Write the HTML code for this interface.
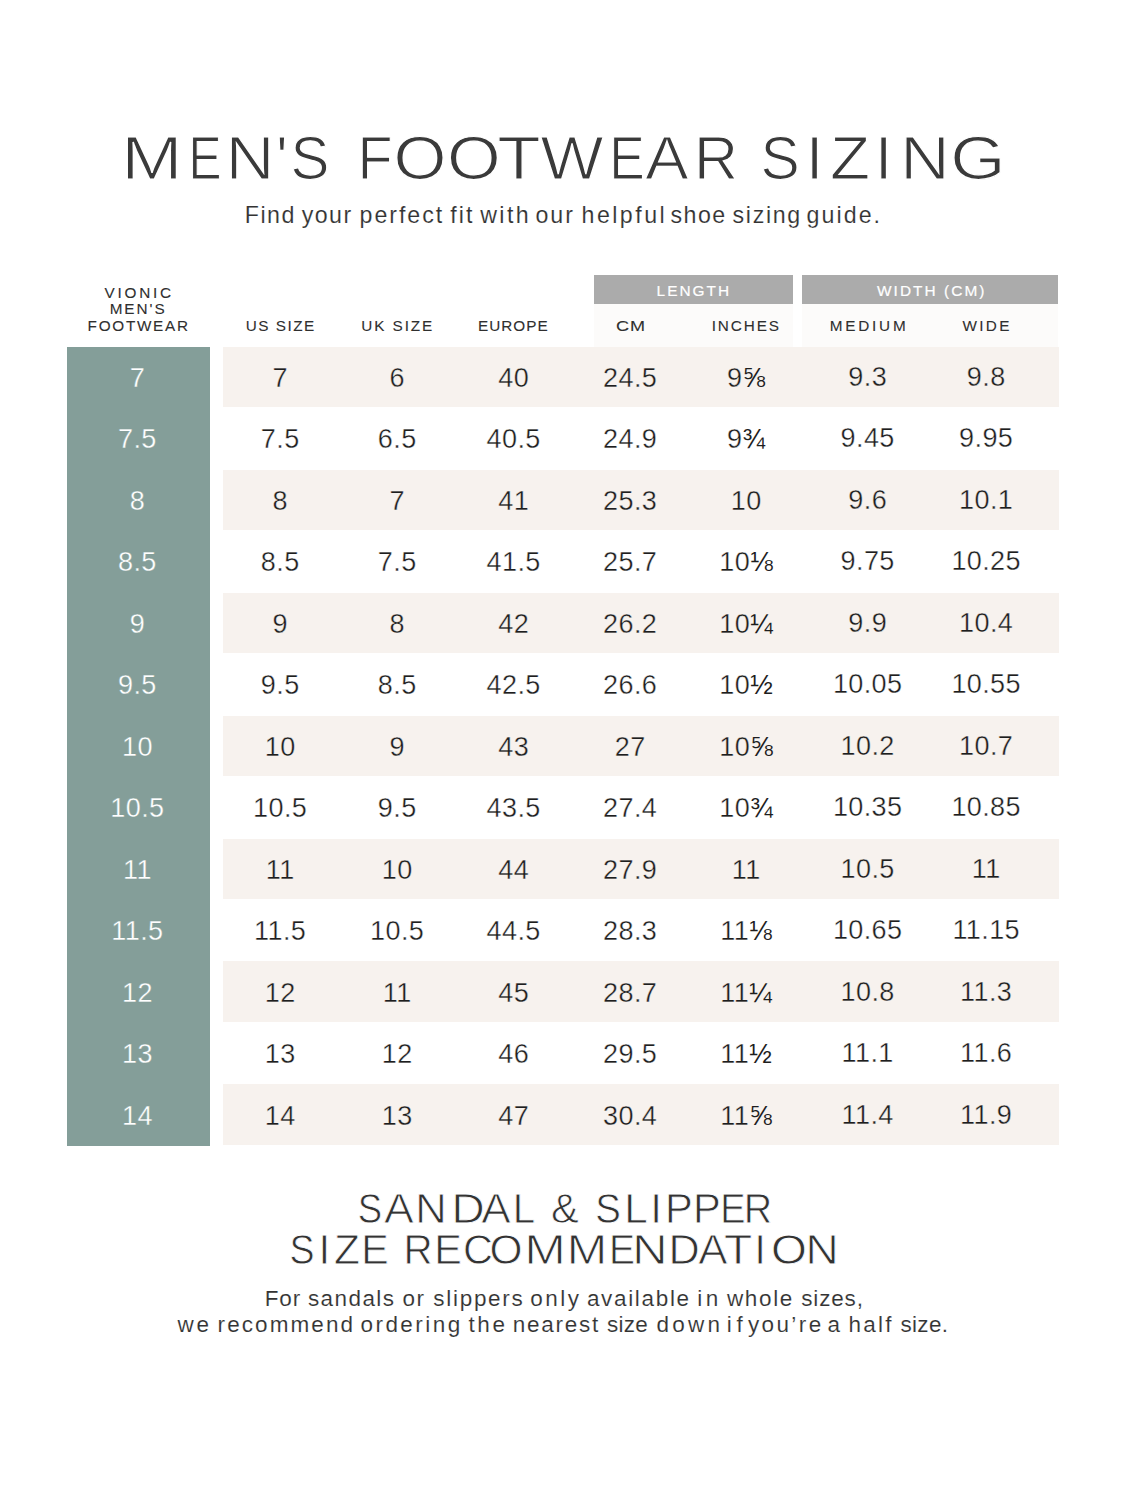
<!DOCTYPE html>
<html><head><meta charset="utf-8"><style>
html,body{margin:0;padding:0;background:#fff;}
body{width:1125px;height:1500px;position:relative;overflow:hidden;font-family:"Liberation Sans",sans-serif;}
.t{position:absolute;text-align:center;white-space:nowrap;}
.bg{position:absolute;left:222.5px;width:836.5px;background:#f7f2ee;}
.teal{position:absolute;left:67px;top:347.3px;width:143px;height:798.4000000000001px;background:#849e99;}
.gray{position:absolute;top:275.2px;height:28.900000000000034px;background:#ababab;}
.hrow{position:absolute;top:304px;height:43px;background:#fcfbfa;}
</style></head><body>
<div class="hrow" style="left:594px;width:199px"></div>
<div class="hrow" style="left:802px;width:256px"></div>
<div class="gray" style="left:594px;width:199px"></div>
<div class="gray" style="left:802px;width:256px"></div>
<div class="teal"></div>
<div class="bg" style="top:346.90px;height:60.4px"></div>
<div class="bg" style="top:469.80px;height:60.4px"></div>
<div class="bg" style="top:592.70px;height:60.4px"></div>
<div class="bg" style="top:715.60px;height:60.4px"></div>
<div class="bg" style="top:838.50px;height:60.4px"></div>
<div class="bg" style="top:961.40px;height:60.4px"></div>
<div class="bg" style="top:1084.30px;height:60.4px"></div>
<div class="t" style="left:51.50px;top:118.95px;width:200px;font-size:61.8px;line-height:77.25px;letter-spacing:0.000px;color:#3a3a3a;-webkit-text-stroke:1.2px #fff;transform:scaleX(1.190);">M</div>
<div class="t" style="left:105.00px;top:118.95px;width:200px;font-size:61.8px;line-height:77.25px;letter-spacing:0.000px;color:#3a3a3a;-webkit-text-stroke:1.2px #fff;transform:scaleX(0.802);">E</div>
<div class="t" style="left:149.50px;top:118.95px;width:200px;font-size:61.8px;line-height:77.25px;letter-spacing:0.000px;color:#3a3a3a;-webkit-text-stroke:1.2px #fff;transform:scaleX(1.089);">N</div>
<div class="t" style="left:182.00px;top:118.95px;width:200px;font-size:61.8px;line-height:77.25px;letter-spacing:0.000px;color:#3a3a3a;-webkit-text-stroke:1.2px #fff;transform:scaleX(1.000);">'</div>
<div class="t" style="left:209.50px;top:118.95px;width:200px;font-size:61.8px;line-height:77.25px;letter-spacing:0.000px;color:#3a3a3a;-webkit-text-stroke:1.2px #fff;transform:scaleX(0.944);">S</div>
<div class="t" style="left:274.50px;top:118.95px;width:200px;font-size:61.8px;line-height:77.25px;letter-spacing:0.000px;color:#3a3a3a;-webkit-text-stroke:1.2px #fff;transform:scaleX(0.930);">F</div>
<div class="t" style="left:319.50px;top:118.95px;width:200px;font-size:61.8px;line-height:77.25px;letter-spacing:0.000px;color:#3a3a3a;-webkit-text-stroke:1.2px #fff;transform:scaleX(1.102);">O</div>
<div class="t" style="left:374.00px;top:118.95px;width:200px;font-size:61.8px;line-height:77.25px;letter-spacing:0.000px;color:#3a3a3a;-webkit-text-stroke:1.2px #fff;transform:scaleX(1.118);">O</div>
<div class="t" style="left:418.50px;top:118.95px;width:200px;font-size:61.8px;line-height:77.25px;letter-spacing:0.000px;color:#3a3a3a;-webkit-text-stroke:1.2px #fff;transform:scaleX(1.149);">T</div>
<div class="t" style="left:472.00px;top:118.95px;width:200px;font-size:61.8px;line-height:77.25px;letter-spacing:0.000px;color:#3a3a3a;-webkit-text-stroke:1.2px #fff;transform:scaleX(1.079);">W</div>
<div class="t" style="left:526.50px;top:118.95px;width:200px;font-size:61.8px;line-height:77.25px;letter-spacing:0.000px;color:#3a3a3a;-webkit-text-stroke:1.2px #fff;transform:scaleX(0.861);">E</div>
<div class="t" style="left:567.00px;top:118.95px;width:200px;font-size:61.8px;line-height:77.25px;letter-spacing:0.000px;color:#3a3a3a;-webkit-text-stroke:1.2px #fff;transform:scaleX(1.051);">A</div>
<div class="t" style="left:615.50px;top:118.95px;width:200px;font-size:61.8px;line-height:77.25px;letter-spacing:0.000px;color:#3a3a3a;-webkit-text-stroke:1.2px #fff;transform:scaleX(0.986);">R</div>
<div class="t" style="left:680.00px;top:118.95px;width:200px;font-size:61.8px;line-height:77.25px;letter-spacing:0.000px;color:#3a3a3a;-webkit-text-stroke:1.2px #fff;transform:scaleX(0.952);">S</div>
<div class="t" style="left:714.50px;top:118.95px;width:200px;font-size:61.8px;line-height:77.25px;letter-spacing:0.000px;color:#3a3a3a;-webkit-text-stroke:1.2px #fff;transform:scaleX(1.000);">I</div>
<div class="t" style="left:750.00px;top:118.95px;width:200px;font-size:61.8px;line-height:77.25px;letter-spacing:0.000px;color:#3a3a3a;-webkit-text-stroke:1.2px #fff;transform:scaleX(1.062);">Z</div>
<div class="t" style="left:783.50px;top:118.95px;width:200px;font-size:61.8px;line-height:77.25px;letter-spacing:0.000px;color:#3a3a3a;-webkit-text-stroke:1.2px #fff;transform:scaleX(1.000);">I</div>
<div class="t" style="left:825.00px;top:118.95px;width:200px;font-size:61.8px;line-height:77.25px;letter-spacing:0.000px;color:#3a3a3a;-webkit-text-stroke:1.2px #fff;transform:scaleX(1.106);">N</div>
<div class="t" style="left:878.00px;top:118.95px;width:200px;font-size:61.8px;line-height:77.25px;letter-spacing:0.000px;color:#3a3a3a;-webkit-text-stroke:1.2px #fff;transform:scaleX(1.150);">G</div>
<div class="t" style="left:39.20px;top:282.54px;width:200px;font-size:15.3px;line-height:19.12px;letter-spacing:2.800px;color:#2f2f2f;-webkit-text-stroke:0.1px #2f2f2f;">VIONIC</div>
<div class="t" style="left:38.20px;top:299.24px;width:200px;font-size:15.3px;line-height:19.12px;letter-spacing:2.000px;color:#2f2f2f;-webkit-text-stroke:0.1px #2f2f2f;">MEN'S</div>
<div class="t" style="left:38.66px;top:316.14px;width:200px;font-size:15.3px;line-height:19.12px;letter-spacing:1.714px;color:#2f2f2f;-webkit-text-stroke:0.1px #2f2f2f;">FOOTWEAR</div>
<div class="t" style="left:180.75px;top:316.14px;width:200px;font-size:15.3px;line-height:19.12px;letter-spacing:1.500px;color:#2f2f2f;-webkit-text-stroke:0.1px #2f2f2f;">US SIZE</div>
<div class="t" style="left:297.76px;top:316.14px;width:200px;font-size:15.3px;line-height:19.12px;letter-spacing:1.917px;color:#2f2f2f;-webkit-text-stroke:0.1px #2f2f2f;">UK SIZE</div>
<div class="t" style="left:413.30px;top:316.14px;width:200px;font-size:15.3px;line-height:19.12px;letter-spacing:1.000px;color:#2f2f2f;-webkit-text-stroke:0.1px #2f2f2f;">EUROPE</div>
<div class="t" style="left:530.85px;top:316.14px;width:200px;font-size:15.3px;line-height:19.12px;letter-spacing:0.900px;color:#2f2f2f;transform:scaleX(1.18);-webkit-text-stroke:0.1px #2f2f2f;">CM</div>
<div class="t" style="left:646.25px;top:316.14px;width:200px;font-size:15.3px;line-height:19.12px;letter-spacing:1.900px;color:#2f2f2f;-webkit-text-stroke:0.1px #2f2f2f;">INCHES</div>
<div class="t" style="left:769.10px;top:316.14px;width:200px;font-size:15.3px;line-height:19.12px;letter-spacing:2.800px;color:#2f2f2f;-webkit-text-stroke:0.1px #2f2f2f;">MEDIUM</div>
<div class="t" style="left:887.07px;top:316.14px;width:200px;font-size:15.3px;line-height:19.12px;letter-spacing:2.333px;color:#2f2f2f;-webkit-text-stroke:0.1px #2f2f2f;">WIDE</div>
<div class="t" style="left:593.80px;top:280.94px;width:200px;font-size:15.4px;line-height:19.25px;letter-spacing:2.000px;color:#fff;-webkit-text-stroke:0.2px #fff;">LENGTH</div>
<div class="t" style="left:831.73px;top:280.94px;width:200px;font-size:15.4px;line-height:19.25px;letter-spacing:2.056px;color:#fff;-webkit-text-stroke:0.2px #fff;">WIDTH (CM)</div>
<div class="t" style="left:269.70px;top:1182.99px;width:200px;font-size:42.2px;line-height:52.75px;letter-spacing:0.000px;color:#333;-webkit-text-stroke:0.8px #fff;transform:scaleX(0.866);">S</div>
<div class="t" style="left:298.60px;top:1182.99px;width:200px;font-size:42.2px;line-height:52.75px;letter-spacing:0.000px;color:#333;-webkit-text-stroke:0.8px #fff;transform:scaleX(1.059);">A</div>
<div class="t" style="left:331.30px;top:1182.99px;width:200px;font-size:42.2px;line-height:52.75px;letter-spacing:0.000px;color:#333;-webkit-text-stroke:0.8px #fff;transform:scaleX(1.032);">N</div>
<div class="t" style="left:367.50px;top:1182.99px;width:200px;font-size:42.2px;line-height:52.75px;letter-spacing:0.000px;color:#333;-webkit-text-stroke:0.8px #fff;transform:scaleX(1.089);">D</div>
<div class="t" style="left:395.70px;top:1182.99px;width:200px;font-size:42.2px;line-height:52.75px;letter-spacing:0.000px;color:#333;-webkit-text-stroke:0.8px #fff;transform:scaleX(1.048);">A</div>
<div class="t" style="left:423.90px;top:1182.99px;width:200px;font-size:42.2px;line-height:52.75px;letter-spacing:0.000px;color:#333;-webkit-text-stroke:0.8px #fff;transform:scaleX(0.955);">L</div>
<div class="t" style="left:465.20px;top:1182.99px;width:200px;font-size:42.2px;line-height:52.75px;letter-spacing:0.000px;color:#333;-webkit-text-stroke:0.8px #fff;transform:scaleX(0.986);">&amp;</div>
<div class="t" style="left:508.10px;top:1182.99px;width:200px;font-size:42.2px;line-height:52.75px;letter-spacing:0.000px;color:#333;-webkit-text-stroke:0.8px #fff;transform:scaleX(0.911);">S</div>
<div class="t" style="left:535.70px;top:1182.99px;width:200px;font-size:42.2px;line-height:52.75px;letter-spacing:0.000px;color:#333;-webkit-text-stroke:0.8px #fff;transform:scaleX(1.004);">L</div>
<div class="t" style="left:556.20px;top:1182.99px;width:200px;font-size:42.2px;line-height:52.75px;letter-spacing:0.000px;color:#333;-webkit-text-stroke:0.8px #fff;transform:scaleX(1.000);">I</div>
<div class="t" style="left:579.40px;top:1182.99px;width:200px;font-size:42.2px;line-height:52.75px;letter-spacing:0.000px;color:#333;-webkit-text-stroke:0.8px #fff;transform:scaleX(0.987);">P</div>
<div class="t" style="left:606.60px;top:1182.99px;width:200px;font-size:42.2px;line-height:52.75px;letter-spacing:0.000px;color:#333;-webkit-text-stroke:0.8px #fff;transform:scaleX(0.987);">P</div>
<div class="t" style="left:633.40px;top:1182.99px;width:200px;font-size:42.2px;line-height:52.75px;letter-spacing:0.000px;color:#333;-webkit-text-stroke:0.8px #fff;transform:scaleX(0.898);">E</div>
<div class="t" style="left:658.20px;top:1182.99px;width:200px;font-size:42.2px;line-height:52.75px;letter-spacing:0.000px;color:#333;-webkit-text-stroke:0.8px #fff;transform:scaleX(0.934);">R</div>
<div class="t" style="left:201.70px;top:1224.29px;width:200px;font-size:42.2px;line-height:52.75px;letter-spacing:0.000px;color:#333;-webkit-text-stroke:0.8px #fff;transform:scaleX(0.890);">S</div>
<div class="t" style="left:224.30px;top:1224.29px;width:200px;font-size:42.2px;line-height:52.75px;letter-spacing:0.000px;color:#333;-webkit-text-stroke:0.8px #fff;transform:scaleX(1.000);">I</div>
<div class="t" style="left:247.20px;top:1224.29px;width:200px;font-size:42.2px;line-height:52.75px;letter-spacing:0.000px;color:#333;-webkit-text-stroke:0.8px #fff;transform:scaleX(1.007);">Z</div>
<div class="t" style="left:275.30px;top:1224.29px;width:200px;font-size:42.2px;line-height:52.75px;letter-spacing:0.000px;color:#333;-webkit-text-stroke:0.8px #fff;transform:scaleX(0.976);">E</div>
<div class="t" style="left:317.90px;top:1224.29px;width:200px;font-size:42.2px;line-height:52.75px;letter-spacing:0.000px;color:#333;-webkit-text-stroke:0.8px #fff;transform:scaleX(0.957);">R</div>
<div class="t" style="left:347.90px;top:1224.29px;width:200px;font-size:42.2px;line-height:52.75px;letter-spacing:0.000px;color:#333;-webkit-text-stroke:0.8px #fff;transform:scaleX(0.981);">E</div>
<div class="t" style="left:378.40px;top:1224.29px;width:200px;font-size:42.2px;line-height:52.75px;letter-spacing:0.000px;color:#333;-webkit-text-stroke:0.8px #fff;transform:scaleX(0.982);">C</div>
<div class="t" style="left:405.90px;top:1224.29px;width:200px;font-size:42.2px;line-height:52.75px;letter-spacing:0.000px;color:#333;-webkit-text-stroke:0.8px #fff;transform:scaleX(1.006);">O</div>
<div class="t" style="left:444.90px;top:1224.29px;width:200px;font-size:42.2px;line-height:52.75px;letter-spacing:0.000px;color:#333;-webkit-text-stroke:0.8px #fff;transform:scaleX(1.171);">M</div>
<div class="t" style="left:486.50px;top:1224.29px;width:200px;font-size:42.2px;line-height:52.75px;letter-spacing:0.000px;color:#333;-webkit-text-stroke:0.8px #fff;transform:scaleX(1.150);">M</div>
<div class="t" style="left:522.00px;top:1224.29px;width:200px;font-size:42.2px;line-height:52.75px;letter-spacing:0.000px;color:#333;-webkit-text-stroke:0.8px #fff;transform:scaleX(0.926);">E</div>
<div class="t" style="left:549.80px;top:1224.29px;width:200px;font-size:42.2px;line-height:52.75px;letter-spacing:0.000px;color:#333;-webkit-text-stroke:0.8px #fff;transform:scaleX(1.157);">N</div>
<div class="t" style="left:584.10px;top:1224.29px;width:200px;font-size:42.2px;line-height:52.75px;letter-spacing:0.000px;color:#333;-webkit-text-stroke:0.8px #fff;transform:scaleX(1.024);">D</div>
<div class="t" style="left:612.70px;top:1224.29px;width:200px;font-size:42.2px;line-height:52.75px;letter-spacing:0.000px;color:#333;-webkit-text-stroke:0.8px #fff;transform:scaleX(1.040);">A</div>
<div class="t" style="left:637.50px;top:1224.29px;width:200px;font-size:42.2px;line-height:52.75px;letter-spacing:0.000px;color:#333;-webkit-text-stroke:0.8px #fff;transform:scaleX(1.094);">T</div>
<div class="t" style="left:660.20px;top:1224.29px;width:200px;font-size:42.2px;line-height:52.75px;letter-spacing:0.000px;color:#333;-webkit-text-stroke:0.8px #fff;transform:scaleX(1.000);">I</div>
<div class="t" style="left:688.60px;top:1224.29px;width:200px;font-size:42.2px;line-height:52.75px;letter-spacing:0.000px;color:#333;-webkit-text-stroke:0.8px #fff;transform:scaleX(1.093);">O</div>
<div class="t" style="left:722.10px;top:1224.29px;width:200px;font-size:42.2px;line-height:52.75px;letter-spacing:0.000px;color:#333;-webkit-text-stroke:0.8px #fff;transform:scaleX(1.089);">N</div>
<div class="t" style="left:120.28px;top:201.06px;width:300px;font-size:23.2px;line-height:29.0px;letter-spacing:1.464px;color:#333;-webkit-text-stroke:0.12px #fff;">Find</div>
<div class="t" style="left:177.13px;top:201.06px;width:300px;font-size:23.2px;line-height:29.0px;letter-spacing:1.464px;color:#333;-webkit-text-stroke:0.12px #fff;">your</div>
<div class="t" style="left:251.88px;top:201.06px;width:300px;font-size:23.2px;line-height:29.0px;letter-spacing:1.964px;color:#333;-webkit-text-stroke:0.12px #fff;">perfect</div>
<div class="t" style="left:312.33px;top:201.06px;width:300px;font-size:23.2px;line-height:29.0px;letter-spacing:1.964px;color:#333;-webkit-text-stroke:0.12px #fff;">fit</div>
<div class="t" style="left:355.68px;top:201.06px;width:300px;font-size:23.2px;line-height:29.0px;letter-spacing:2.464px;color:#333;-webkit-text-stroke:0.12px #fff;">with</div>
<div class="t" style="left:405.18px;top:201.06px;width:300px;font-size:23.2px;line-height:29.0px;letter-spacing:1.964px;color:#333;-webkit-text-stroke:0.12px #fff;">our</div>
<div class="t" style="left:474.33px;top:201.06px;width:300px;font-size:23.2px;line-height:29.0px;letter-spacing:2.464px;color:#333;-webkit-text-stroke:0.12px #fff;">helpful</div>
<div class="t" style="left:548.58px;top:201.06px;width:300px;font-size:23.2px;line-height:29.0px;letter-spacing:1.464px;color:#333;-webkit-text-stroke:0.12px #fff;">shoe</div>
<div class="t" style="left:617.23px;top:201.06px;width:300px;font-size:23.2px;line-height:29.0px;letter-spacing:1.664px;color:#333;-webkit-text-stroke:0.12px #fff;">sizing</div>
<div class="t" style="left:694.33px;top:201.06px;width:300px;font-size:23.2px;line-height:29.0px;letter-spacing:2.064px;color:#333;-webkit-text-stroke:0.12px #fff;">guide.</div>
<div class="t" style="left:132.91px;top:1285.44px;width:300px;font-size:22.5px;line-height:28.12px;letter-spacing:0.925px;color:#333;-webkit-text-stroke:0.12px #fff;">For</div>
<div class="t" style="left:201.66px;top:1285.44px;width:300px;font-size:22.5px;line-height:28.12px;letter-spacing:1.425px;color:#333;-webkit-text-stroke:0.12px #fff;">sandals</div>
<div class="t" style="left:264.01px;top:1285.44px;width:300px;font-size:22.5px;line-height:28.12px;letter-spacing:1.425px;color:#333;-webkit-text-stroke:0.12px #fff;">or</div>
<div class="t" style="left:328.91px;top:1285.44px;width:300px;font-size:22.5px;line-height:28.12px;letter-spacing:1.710px;color:#333;-webkit-text-stroke:0.12px #fff;">slippers</div>
<div class="t" style="left:405.86px;top:1285.44px;width:300px;font-size:22.5px;line-height:28.12px;letter-spacing:2.425px;color:#333;-webkit-text-stroke:0.12px #fff;">only</div>
<div class="t" style="left:488.84px;top:1285.44px;width:300px;font-size:22.5px;line-height:28.12px;letter-spacing:1.675px;color:#333;-webkit-text-stroke:0.12px #fff;">available</div>
<div class="t" style="left:559.56px;top:1285.44px;width:300px;font-size:22.5px;line-height:28.12px;letter-spacing:3.425px;color:#333;-webkit-text-stroke:0.12px #fff;">in</div>
<div class="t" style="left:610.49px;top:1285.44px;width:300px;font-size:22.5px;line-height:28.12px;letter-spacing:1.675px;color:#333;-webkit-text-stroke:0.12px #fff;">whole</div>
<div class="t" style="left:682.51px;top:1285.44px;width:300px;font-size:22.5px;line-height:28.12px;letter-spacing:0.825px;color:#333;-webkit-text-stroke:0.12px #fff;">sizes,</div>
<div class="t" style="left:44.59px;top:1311.14px;width:300px;font-size:22.5px;line-height:28.12px;letter-spacing:2.585px;color:#333;-webkit-text-stroke:0.12px #fff;">we</div>
<div class="t" style="left:136.39px;top:1311.14px;width:300px;font-size:22.5px;line-height:28.12px;letter-spacing:2.085px;color:#333;-webkit-text-stroke:0.12px #fff;">recommend</div>
<div class="t" style="left:261.57px;top:1311.14px;width:300px;font-size:22.5px;line-height:28.12px;letter-spacing:2.442px;color:#333;-webkit-text-stroke:0.12px #fff;">ordering</div>
<div class="t" style="left:337.99px;top:1311.14px;width:300px;font-size:22.5px;line-height:28.12px;letter-spacing:2.585px;color:#333;-webkit-text-stroke:0.12px #fff;">the</div>
<div class="t" style="left:406.38px;top:1311.14px;width:300px;font-size:22.5px;line-height:28.12px;letter-spacing:1.751px;color:#333;-webkit-text-stroke:0.12px #fff;">nearest</div>
<div class="t" style="left:477.63px;top:1311.14px;width:300px;font-size:22.5px;line-height:28.12px;letter-spacing:0.251px;color:#333;-webkit-text-stroke:0.12px #fff;">size</div>
<div class="t" style="left:539.93px;top:1311.14px;width:300px;font-size:22.5px;line-height:28.12px;letter-spacing:3.251px;color:#333;-webkit-text-stroke:0.12px #fff;">down</div>
<div class="t" style="left:587.04px;top:1311.14px;width:300px;font-size:22.5px;line-height:28.12px;letter-spacing:4.585px;color:#333;-webkit-text-stroke:0.12px #fff;">if</div>
<div class="t" style="left:635.74px;top:1311.14px;width:300px;font-size:22.5px;line-height:28.12px;letter-spacing:2.385px;color:#333;-webkit-text-stroke:0.12px #fff;">you’re</div>
<div class="t" style="left:684.44px;top:1311.14px;width:300px;font-size:22.5px;line-height:28.12px;letter-spacing:1.585px;color:#333;-webkit-text-stroke:0.12px #fff;">a</div>
<div class="t" style="left:721.03px;top:1311.14px;width:300px;font-size:22.5px;line-height:28.12px;letter-spacing:2.251px;color:#333;-webkit-text-stroke:0.12px #fff;">half</div>
<div class="t" style="left:774.37px;top:1311.14px;width:300px;font-size:22.5px;line-height:28.12px;letter-spacing:0.335px;color:#333;-webkit-text-stroke:0.12px #fff;">size.</div>
<div class="t" style="left:57.40px;top:361.76px;width:160px;font-size:27px;line-height:33.75px;letter-spacing:0.400px;color:#fff;-webkit-text-stroke:0.35px #849e99;">7</div>
<div class="t" style="left:200.20px;top:361.76px;width:160px;font-size:27px;line-height:33.75px;letter-spacing:0.400px;color:#1e1e1e;-webkit-text-stroke:0.35px #f7f2ee;">7</div>
<div class="t" style="left:317.20px;top:361.76px;width:160px;font-size:27px;line-height:33.75px;letter-spacing:0.400px;color:#1e1e1e;-webkit-text-stroke:0.35px #f7f2ee;">6</div>
<div class="t" style="left:433.70px;top:361.76px;width:160px;font-size:27px;line-height:33.75px;letter-spacing:0.400px;color:#1e1e1e;-webkit-text-stroke:0.35px #f7f2ee;">40</div>
<div class="t" style="left:550.20px;top:361.76px;width:160px;font-size:27px;line-height:33.75px;letter-spacing:0.400px;color:#1e1e1e;-webkit-text-stroke:0.35px #f7f2ee;">24.5</div>
<div class="t" style="left:666.20px;top:361.76px;width:160px;font-size:27px;line-height:33.75px;letter-spacing:0.400px;color:#1e1e1e;-webkit-text-stroke:0.35px #f7f2ee;">9<span style="-webkit-text-stroke:0">⅝</span></div>
<div class="t" style="left:787.70px;top:360.76px;width:160px;font-size:27px;line-height:33.75px;letter-spacing:0.400px;color:#1e1e1e;-webkit-text-stroke:0.35px #f7f2ee;">9.3</div>
<div class="t" style="left:906.20px;top:360.76px;width:160px;font-size:27px;line-height:33.75px;letter-spacing:0.400px;color:#1e1e1e;-webkit-text-stroke:0.35px #f7f2ee;">9.8</div>
<div class="t" style="left:57.40px;top:423.26px;width:160px;font-size:27px;line-height:33.75px;letter-spacing:0.400px;color:#fff;-webkit-text-stroke:0.35px #849e99;">7.5</div>
<div class="t" style="left:200.20px;top:423.26px;width:160px;font-size:27px;line-height:33.75px;letter-spacing:0.400px;color:#1e1e1e;-webkit-text-stroke:0.35px #fff;">7.5</div>
<div class="t" style="left:317.20px;top:423.26px;width:160px;font-size:27px;line-height:33.75px;letter-spacing:0.400px;color:#1e1e1e;-webkit-text-stroke:0.35px #fff;">6.5</div>
<div class="t" style="left:433.70px;top:423.26px;width:160px;font-size:27px;line-height:33.75px;letter-spacing:0.400px;color:#1e1e1e;-webkit-text-stroke:0.35px #fff;">40.5</div>
<div class="t" style="left:550.20px;top:423.26px;width:160px;font-size:27px;line-height:33.75px;letter-spacing:0.400px;color:#1e1e1e;-webkit-text-stroke:0.35px #fff;">24.9</div>
<div class="t" style="left:666.20px;top:423.26px;width:160px;font-size:27px;line-height:33.75px;letter-spacing:0.400px;color:#1e1e1e;-webkit-text-stroke:0.35px #fff;">9<span style="-webkit-text-stroke:0">¾</span></div>
<div class="t" style="left:787.70px;top:422.26px;width:160px;font-size:27px;line-height:33.75px;letter-spacing:0.400px;color:#1e1e1e;-webkit-text-stroke:0.35px #fff;">9.45</div>
<div class="t" style="left:906.20px;top:422.26px;width:160px;font-size:27px;line-height:33.75px;letter-spacing:0.400px;color:#1e1e1e;-webkit-text-stroke:0.35px #fff;">9.95</div>
<div class="t" style="left:57.40px;top:484.76px;width:160px;font-size:27px;line-height:33.75px;letter-spacing:0.400px;color:#fff;-webkit-text-stroke:0.35px #849e99;">8</div>
<div class="t" style="left:200.20px;top:484.76px;width:160px;font-size:27px;line-height:33.75px;letter-spacing:0.400px;color:#1e1e1e;-webkit-text-stroke:0.35px #f7f2ee;">8</div>
<div class="t" style="left:317.20px;top:484.76px;width:160px;font-size:27px;line-height:33.75px;letter-spacing:0.400px;color:#1e1e1e;-webkit-text-stroke:0.35px #f7f2ee;">7</div>
<div class="t" style="left:433.70px;top:484.76px;width:160px;font-size:27px;line-height:33.75px;letter-spacing:0.400px;color:#1e1e1e;-webkit-text-stroke:0.35px #f7f2ee;">41</div>
<div class="t" style="left:550.20px;top:484.76px;width:160px;font-size:27px;line-height:33.75px;letter-spacing:0.400px;color:#1e1e1e;-webkit-text-stroke:0.35px #f7f2ee;">25.3</div>
<div class="t" style="left:666.20px;top:484.76px;width:160px;font-size:27px;line-height:33.75px;letter-spacing:0.400px;color:#1e1e1e;-webkit-text-stroke:0.35px #f7f2ee;">10</div>
<div class="t" style="left:787.70px;top:483.76px;width:160px;font-size:27px;line-height:33.75px;letter-spacing:0.400px;color:#1e1e1e;-webkit-text-stroke:0.35px #f7f2ee;">9.6</div>
<div class="t" style="left:906.20px;top:483.76px;width:160px;font-size:27px;line-height:33.75px;letter-spacing:0.400px;color:#1e1e1e;-webkit-text-stroke:0.35px #f7f2ee;">10.1</div>
<div class="t" style="left:57.40px;top:546.26px;width:160px;font-size:27px;line-height:33.75px;letter-spacing:0.400px;color:#fff;-webkit-text-stroke:0.35px #849e99;">8.5</div>
<div class="t" style="left:200.20px;top:546.26px;width:160px;font-size:27px;line-height:33.75px;letter-spacing:0.400px;color:#1e1e1e;-webkit-text-stroke:0.35px #fff;">8.5</div>
<div class="t" style="left:317.20px;top:546.26px;width:160px;font-size:27px;line-height:33.75px;letter-spacing:0.400px;color:#1e1e1e;-webkit-text-stroke:0.35px #fff;">7.5</div>
<div class="t" style="left:433.70px;top:546.26px;width:160px;font-size:27px;line-height:33.75px;letter-spacing:0.400px;color:#1e1e1e;-webkit-text-stroke:0.35px #fff;">41.5</div>
<div class="t" style="left:550.20px;top:546.26px;width:160px;font-size:27px;line-height:33.75px;letter-spacing:0.400px;color:#1e1e1e;-webkit-text-stroke:0.35px #fff;">25.7</div>
<div class="t" style="left:666.20px;top:546.26px;width:160px;font-size:27px;line-height:33.75px;letter-spacing:0.400px;color:#1e1e1e;-webkit-text-stroke:0.35px #fff;">10<span style="-webkit-text-stroke:0">⅛</span></div>
<div class="t" style="left:787.70px;top:545.26px;width:160px;font-size:27px;line-height:33.75px;letter-spacing:0.400px;color:#1e1e1e;-webkit-text-stroke:0.35px #fff;">9.75</div>
<div class="t" style="left:906.20px;top:545.26px;width:160px;font-size:27px;line-height:33.75px;letter-spacing:0.400px;color:#1e1e1e;-webkit-text-stroke:0.35px #fff;">10.25</div>
<div class="t" style="left:57.40px;top:607.76px;width:160px;font-size:27px;line-height:33.75px;letter-spacing:0.400px;color:#fff;-webkit-text-stroke:0.35px #849e99;">9</div>
<div class="t" style="left:200.20px;top:607.76px;width:160px;font-size:27px;line-height:33.75px;letter-spacing:0.400px;color:#1e1e1e;-webkit-text-stroke:0.35px #f7f2ee;">9</div>
<div class="t" style="left:317.20px;top:607.76px;width:160px;font-size:27px;line-height:33.75px;letter-spacing:0.400px;color:#1e1e1e;-webkit-text-stroke:0.35px #f7f2ee;">8</div>
<div class="t" style="left:433.70px;top:607.76px;width:160px;font-size:27px;line-height:33.75px;letter-spacing:0.400px;color:#1e1e1e;-webkit-text-stroke:0.35px #f7f2ee;">42</div>
<div class="t" style="left:550.20px;top:607.76px;width:160px;font-size:27px;line-height:33.75px;letter-spacing:0.400px;color:#1e1e1e;-webkit-text-stroke:0.35px #f7f2ee;">26.2</div>
<div class="t" style="left:666.20px;top:607.76px;width:160px;font-size:27px;line-height:33.75px;letter-spacing:0.400px;color:#1e1e1e;-webkit-text-stroke:0.35px #f7f2ee;">10<span style="-webkit-text-stroke:0">¼</span></div>
<div class="t" style="left:787.70px;top:606.76px;width:160px;font-size:27px;line-height:33.75px;letter-spacing:0.400px;color:#1e1e1e;-webkit-text-stroke:0.35px #f7f2ee;">9.9</div>
<div class="t" style="left:906.20px;top:606.76px;width:160px;font-size:27px;line-height:33.75px;letter-spacing:0.400px;color:#1e1e1e;-webkit-text-stroke:0.35px #f7f2ee;">10.4</div>
<div class="t" style="left:57.40px;top:669.26px;width:160px;font-size:27px;line-height:33.75px;letter-spacing:0.400px;color:#fff;-webkit-text-stroke:0.35px #849e99;">9.5</div>
<div class="t" style="left:200.20px;top:669.26px;width:160px;font-size:27px;line-height:33.75px;letter-spacing:0.400px;color:#1e1e1e;-webkit-text-stroke:0.35px #fff;">9.5</div>
<div class="t" style="left:317.20px;top:669.26px;width:160px;font-size:27px;line-height:33.75px;letter-spacing:0.400px;color:#1e1e1e;-webkit-text-stroke:0.35px #fff;">8.5</div>
<div class="t" style="left:433.70px;top:669.26px;width:160px;font-size:27px;line-height:33.75px;letter-spacing:0.400px;color:#1e1e1e;-webkit-text-stroke:0.35px #fff;">42.5</div>
<div class="t" style="left:550.20px;top:669.26px;width:160px;font-size:27px;line-height:33.75px;letter-spacing:0.400px;color:#1e1e1e;-webkit-text-stroke:0.35px #fff;">26.6</div>
<div class="t" style="left:666.20px;top:669.26px;width:160px;font-size:27px;line-height:33.75px;letter-spacing:0.400px;color:#1e1e1e;-webkit-text-stroke:0.35px #fff;">10<span style="-webkit-text-stroke:0">½</span></div>
<div class="t" style="left:787.70px;top:668.26px;width:160px;font-size:27px;line-height:33.75px;letter-spacing:0.400px;color:#1e1e1e;-webkit-text-stroke:0.35px #fff;">10.05</div>
<div class="t" style="left:906.20px;top:668.26px;width:160px;font-size:27px;line-height:33.75px;letter-spacing:0.400px;color:#1e1e1e;-webkit-text-stroke:0.35px #fff;">10.55</div>
<div class="t" style="left:57.40px;top:730.76px;width:160px;font-size:27px;line-height:33.75px;letter-spacing:0.400px;color:#fff;-webkit-text-stroke:0.35px #849e99;">10</div>
<div class="t" style="left:200.20px;top:730.76px;width:160px;font-size:27px;line-height:33.75px;letter-spacing:0.400px;color:#1e1e1e;-webkit-text-stroke:0.35px #f7f2ee;">10</div>
<div class="t" style="left:317.20px;top:730.76px;width:160px;font-size:27px;line-height:33.75px;letter-spacing:0.400px;color:#1e1e1e;-webkit-text-stroke:0.35px #f7f2ee;">9</div>
<div class="t" style="left:433.70px;top:730.76px;width:160px;font-size:27px;line-height:33.75px;letter-spacing:0.400px;color:#1e1e1e;-webkit-text-stroke:0.35px #f7f2ee;">43</div>
<div class="t" style="left:550.20px;top:730.76px;width:160px;font-size:27px;line-height:33.75px;letter-spacing:0.400px;color:#1e1e1e;-webkit-text-stroke:0.35px #f7f2ee;">27</div>
<div class="t" style="left:666.20px;top:730.76px;width:160px;font-size:27px;line-height:33.75px;letter-spacing:0.400px;color:#1e1e1e;-webkit-text-stroke:0.35px #f7f2ee;">10<span style="-webkit-text-stroke:0">⅝</span></div>
<div class="t" style="left:787.70px;top:729.76px;width:160px;font-size:27px;line-height:33.75px;letter-spacing:0.400px;color:#1e1e1e;-webkit-text-stroke:0.35px #f7f2ee;">10.2</div>
<div class="t" style="left:906.20px;top:729.76px;width:160px;font-size:27px;line-height:33.75px;letter-spacing:0.400px;color:#1e1e1e;-webkit-text-stroke:0.35px #f7f2ee;">10.7</div>
<div class="t" style="left:57.40px;top:792.26px;width:160px;font-size:27px;line-height:33.75px;letter-spacing:0.400px;color:#fff;-webkit-text-stroke:0.35px #849e99;">10.5</div>
<div class="t" style="left:200.20px;top:792.26px;width:160px;font-size:27px;line-height:33.75px;letter-spacing:0.400px;color:#1e1e1e;-webkit-text-stroke:0.35px #fff;">10.5</div>
<div class="t" style="left:317.20px;top:792.26px;width:160px;font-size:27px;line-height:33.75px;letter-spacing:0.400px;color:#1e1e1e;-webkit-text-stroke:0.35px #fff;">9.5</div>
<div class="t" style="left:433.70px;top:792.26px;width:160px;font-size:27px;line-height:33.75px;letter-spacing:0.400px;color:#1e1e1e;-webkit-text-stroke:0.35px #fff;">43.5</div>
<div class="t" style="left:550.20px;top:792.26px;width:160px;font-size:27px;line-height:33.75px;letter-spacing:0.400px;color:#1e1e1e;-webkit-text-stroke:0.35px #fff;">27.4</div>
<div class="t" style="left:666.20px;top:792.26px;width:160px;font-size:27px;line-height:33.75px;letter-spacing:0.400px;color:#1e1e1e;-webkit-text-stroke:0.35px #fff;">10<span style="-webkit-text-stroke:0">¾</span></div>
<div class="t" style="left:787.70px;top:791.26px;width:160px;font-size:27px;line-height:33.75px;letter-spacing:0.400px;color:#1e1e1e;-webkit-text-stroke:0.35px #fff;">10.35</div>
<div class="t" style="left:906.20px;top:791.26px;width:160px;font-size:27px;line-height:33.75px;letter-spacing:0.400px;color:#1e1e1e;-webkit-text-stroke:0.35px #fff;">10.85</div>
<div class="t" style="left:57.40px;top:853.76px;width:160px;font-size:27px;line-height:33.75px;letter-spacing:0.400px;color:#fff;-webkit-text-stroke:0.35px #849e99;">11</div>
<div class="t" style="left:200.20px;top:853.76px;width:160px;font-size:27px;line-height:33.75px;letter-spacing:0.400px;color:#1e1e1e;-webkit-text-stroke:0.35px #f7f2ee;">11</div>
<div class="t" style="left:317.20px;top:853.76px;width:160px;font-size:27px;line-height:33.75px;letter-spacing:0.400px;color:#1e1e1e;-webkit-text-stroke:0.35px #f7f2ee;">10</div>
<div class="t" style="left:433.70px;top:853.76px;width:160px;font-size:27px;line-height:33.75px;letter-spacing:0.400px;color:#1e1e1e;-webkit-text-stroke:0.35px #f7f2ee;">44</div>
<div class="t" style="left:550.20px;top:853.76px;width:160px;font-size:27px;line-height:33.75px;letter-spacing:0.400px;color:#1e1e1e;-webkit-text-stroke:0.35px #f7f2ee;">27.9</div>
<div class="t" style="left:666.20px;top:853.76px;width:160px;font-size:27px;line-height:33.75px;letter-spacing:0.400px;color:#1e1e1e;-webkit-text-stroke:0.35px #f7f2ee;">11</div>
<div class="t" style="left:787.70px;top:852.76px;width:160px;font-size:27px;line-height:33.75px;letter-spacing:0.400px;color:#1e1e1e;-webkit-text-stroke:0.35px #f7f2ee;">10.5</div>
<div class="t" style="left:906.20px;top:852.76px;width:160px;font-size:27px;line-height:33.75px;letter-spacing:0.400px;color:#1e1e1e;-webkit-text-stroke:0.35px #f7f2ee;">11</div>
<div class="t" style="left:57.40px;top:915.26px;width:160px;font-size:27px;line-height:33.75px;letter-spacing:0.400px;color:#fff;-webkit-text-stroke:0.35px #849e99;">11.5</div>
<div class="t" style="left:200.20px;top:915.26px;width:160px;font-size:27px;line-height:33.75px;letter-spacing:0.400px;color:#1e1e1e;-webkit-text-stroke:0.35px #fff;">11.5</div>
<div class="t" style="left:317.20px;top:915.26px;width:160px;font-size:27px;line-height:33.75px;letter-spacing:0.400px;color:#1e1e1e;-webkit-text-stroke:0.35px #fff;">10.5</div>
<div class="t" style="left:433.70px;top:915.26px;width:160px;font-size:27px;line-height:33.75px;letter-spacing:0.400px;color:#1e1e1e;-webkit-text-stroke:0.35px #fff;">44.5</div>
<div class="t" style="left:550.20px;top:915.26px;width:160px;font-size:27px;line-height:33.75px;letter-spacing:0.400px;color:#1e1e1e;-webkit-text-stroke:0.35px #fff;">28.3</div>
<div class="t" style="left:666.20px;top:915.26px;width:160px;font-size:27px;line-height:33.75px;letter-spacing:0.400px;color:#1e1e1e;-webkit-text-stroke:0.35px #fff;">11<span style="-webkit-text-stroke:0">⅛</span></div>
<div class="t" style="left:787.70px;top:914.26px;width:160px;font-size:27px;line-height:33.75px;letter-spacing:0.400px;color:#1e1e1e;-webkit-text-stroke:0.35px #fff;">10.65</div>
<div class="t" style="left:906.20px;top:914.26px;width:160px;font-size:27px;line-height:33.75px;letter-spacing:0.400px;color:#1e1e1e;-webkit-text-stroke:0.35px #fff;">11.15</div>
<div class="t" style="left:57.40px;top:976.76px;width:160px;font-size:27px;line-height:33.75px;letter-spacing:0.400px;color:#fff;-webkit-text-stroke:0.35px #849e99;">12</div>
<div class="t" style="left:200.20px;top:976.76px;width:160px;font-size:27px;line-height:33.75px;letter-spacing:0.400px;color:#1e1e1e;-webkit-text-stroke:0.35px #f7f2ee;">12</div>
<div class="t" style="left:317.20px;top:976.76px;width:160px;font-size:27px;line-height:33.75px;letter-spacing:0.400px;color:#1e1e1e;-webkit-text-stroke:0.35px #f7f2ee;">11</div>
<div class="t" style="left:433.70px;top:976.76px;width:160px;font-size:27px;line-height:33.75px;letter-spacing:0.400px;color:#1e1e1e;-webkit-text-stroke:0.35px #f7f2ee;">45</div>
<div class="t" style="left:550.20px;top:976.76px;width:160px;font-size:27px;line-height:33.75px;letter-spacing:0.400px;color:#1e1e1e;-webkit-text-stroke:0.35px #f7f2ee;">28.7</div>
<div class="t" style="left:666.20px;top:976.76px;width:160px;font-size:27px;line-height:33.75px;letter-spacing:0.400px;color:#1e1e1e;-webkit-text-stroke:0.35px #f7f2ee;">11<span style="-webkit-text-stroke:0">¼</span></div>
<div class="t" style="left:787.70px;top:975.76px;width:160px;font-size:27px;line-height:33.75px;letter-spacing:0.400px;color:#1e1e1e;-webkit-text-stroke:0.35px #f7f2ee;">10.8</div>
<div class="t" style="left:906.20px;top:975.76px;width:160px;font-size:27px;line-height:33.75px;letter-spacing:0.400px;color:#1e1e1e;-webkit-text-stroke:0.35px #f7f2ee;">11.3</div>
<div class="t" style="left:57.40px;top:1038.26px;width:160px;font-size:27px;line-height:33.75px;letter-spacing:0.400px;color:#fff;-webkit-text-stroke:0.35px #849e99;">13</div>
<div class="t" style="left:200.20px;top:1038.26px;width:160px;font-size:27px;line-height:33.75px;letter-spacing:0.400px;color:#1e1e1e;-webkit-text-stroke:0.35px #fff;">13</div>
<div class="t" style="left:317.20px;top:1038.26px;width:160px;font-size:27px;line-height:33.75px;letter-spacing:0.400px;color:#1e1e1e;-webkit-text-stroke:0.35px #fff;">12</div>
<div class="t" style="left:433.70px;top:1038.26px;width:160px;font-size:27px;line-height:33.75px;letter-spacing:0.400px;color:#1e1e1e;-webkit-text-stroke:0.35px #fff;">46</div>
<div class="t" style="left:550.20px;top:1038.26px;width:160px;font-size:27px;line-height:33.75px;letter-spacing:0.400px;color:#1e1e1e;-webkit-text-stroke:0.35px #fff;">29.5</div>
<div class="t" style="left:666.20px;top:1038.26px;width:160px;font-size:27px;line-height:33.75px;letter-spacing:0.400px;color:#1e1e1e;-webkit-text-stroke:0.35px #fff;">11<span style="-webkit-text-stroke:0">½</span></div>
<div class="t" style="left:787.70px;top:1037.26px;width:160px;font-size:27px;line-height:33.75px;letter-spacing:0.400px;color:#1e1e1e;-webkit-text-stroke:0.35px #fff;">11.1</div>
<div class="t" style="left:906.20px;top:1037.26px;width:160px;font-size:27px;line-height:33.75px;letter-spacing:0.400px;color:#1e1e1e;-webkit-text-stroke:0.35px #fff;">11.6</div>
<div class="t" style="left:57.40px;top:1099.76px;width:160px;font-size:27px;line-height:33.75px;letter-spacing:0.400px;color:#fff;-webkit-text-stroke:0.35px #849e99;">14</div>
<div class="t" style="left:200.20px;top:1099.76px;width:160px;font-size:27px;line-height:33.75px;letter-spacing:0.400px;color:#1e1e1e;-webkit-text-stroke:0.35px #f7f2ee;">14</div>
<div class="t" style="left:317.20px;top:1099.76px;width:160px;font-size:27px;line-height:33.75px;letter-spacing:0.400px;color:#1e1e1e;-webkit-text-stroke:0.35px #f7f2ee;">13</div>
<div class="t" style="left:433.70px;top:1099.76px;width:160px;font-size:27px;line-height:33.75px;letter-spacing:0.400px;color:#1e1e1e;-webkit-text-stroke:0.35px #f7f2ee;">47</div>
<div class="t" style="left:550.20px;top:1099.76px;width:160px;font-size:27px;line-height:33.75px;letter-spacing:0.400px;color:#1e1e1e;-webkit-text-stroke:0.35px #f7f2ee;">30.4</div>
<div class="t" style="left:666.20px;top:1099.76px;width:160px;font-size:27px;line-height:33.75px;letter-spacing:0.400px;color:#1e1e1e;-webkit-text-stroke:0.35px #f7f2ee;">11<span style="-webkit-text-stroke:0">⅝</span></div>
<div class="t" style="left:787.70px;top:1098.76px;width:160px;font-size:27px;line-height:33.75px;letter-spacing:0.400px;color:#1e1e1e;-webkit-text-stroke:0.35px #f7f2ee;">11.4</div>
<div class="t" style="left:906.20px;top:1098.76px;width:160px;font-size:27px;line-height:33.75px;letter-spacing:0.400px;color:#1e1e1e;-webkit-text-stroke:0.35px #f7f2ee;">11.9</div>
</body></html>
